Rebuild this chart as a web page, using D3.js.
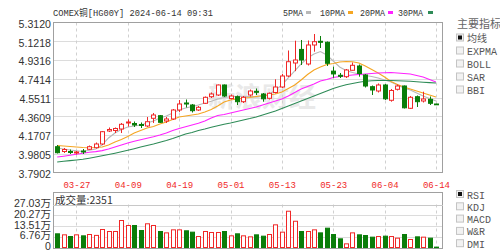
<!DOCTYPE html>
<html><head><meta charset="utf-8">
<script src="https://cdn.jsdelivr.net/npm/d3@7"></script>
<style>html,body{margin:0;padding:0;background:#fff;overflow:hidden}</style>
</head><body><svg id="c" width="500" height="251"></svg>
<script>
const dates = ["03-22","03-25","03-26","03-27","03-28","04-01","04-02","04-03","04-04","04-05","04-08","04-09","04-10","04-11","04-12","04-15","04-16","04-17","04-18","04-19","04-22","04-23","04-24","04-25","04-26","04-29","04-30","05-01","05-02","05-03","05-06","05-07","05-08","05-09","05-10","05-13","05-14","05-15","05-16","05-17","05-20","05-21","05-22","05-23","05-24","05-27","05-28","05-29","05-30","05-31","06-03","06-04","06-05","06-06","06-07","06-10","06-11","06-12","06-13","06-14"];
const open = [4.0520,4.0033,4.0033,3.9881,4.0084,4.0257,4.0419,4.0794,4.2113,4.2164,4.2316,4.2925,4.2874,4.2773,4.2620,4.3401,4.3665,4.3128,4.3331,4.4244,4.4954,4.4751,4.4244,4.4923,4.5593,4.5765,4.6780,4.5410,4.5593,4.5086,4.5765,4.6141,4.5867,4.5430,4.6019,4.6577,4.7693,4.9012,5.0389,4.8910,5.0838,5.1213,5.1112,4.8185,4.7764,4.7622,4.8272,4.8707,4.7795,4.6607,4.6171,4.6780,4.5228,4.6344,4.6679,4.4416,4.5593,4.5157,4.5329,4.4852];
const close = [3.9912,4.0236,3.9932,3.9983,3.9983,4.0520,4.0794,4.2042,4.2265,4.2367,4.2793,4.3026,4.2722,4.2671,4.3056,4.3736,4.2996,4.3331,4.4244,4.4852,4.4852,4.4173,4.4517,4.5532,4.5867,4.6780,4.5664,4.5664,4.5086,4.5532,4.6171,4.6039,4.5380,4.5938,4.6577,4.7693,4.9143,4.9316,4.9316,5.0838,5.1173,5.1112,4.8982,4.7903,4.7663,4.8302,4.8779,4.7947,4.6679,4.6273,4.6780,4.5380,4.6222,4.6679,4.4467,4.5532,4.5086,4.5359,4.4923,4.4791];
const high = [4.0693,4.0388,4.0236,4.0084,4.0287,4.0642,4.0946,4.2113,4.2468,4.2468,4.2925,4.3280,4.3077,4.2976,4.3533,4.3939,4.3736,4.3533,4.4345,4.5258,4.5309,4.4852,4.4649,4.5613,4.6019,4.6830,4.6830,4.5816,4.5715,4.5664,4.6323,4.6425,4.5968,4.6019,4.7358,4.7896,5.0280,5.1274,5.1345,5.1294,5.1952,5.1751,5.1193,4.8637,4.7998,4.8404,4.9063,4.8860,4.7896,4.6729,4.6932,4.6882,4.6374,4.6830,4.6729,4.5664,4.5715,4.6100,4.5613,4.4882];
const low = [3.9830,3.9881,3.9780,3.9729,3.9780,4.0186,4.0338,4.0693,4.2012,4.1907,4.1907,4.2570,4.2519,4.2417,4.2519,4.2925,4.2925,4.2925,4.3229,4.4041,4.4497,4.3990,4.4142,4.4852,4.5461,4.5664,4.5562,4.5309,4.4751,4.4954,4.5613,4.5765,4.5086,4.5309,4.5917,4.6475,4.7591,4.8185,4.8809,4.8758,5.0158,5.0534,4.8707,4.7518,4.7490,4.7490,4.8251,4.7622,4.6526,4.5765,4.6019,4.5258,4.5086,4.6222,4.4396,4.4345,4.4548,4.5004,4.4751,4.4771];
// volume in 万 (10k lots)
const volume = [8.6,7.96,6.91,7.96,7.33,8.17,7.6,11.31,10.06,10.06,16.97,13.83,13.83,10.69,14.9,13.83,10.06,9.2,11.1,11.1,10.5,9.64,6.91,10.06,9.43,9.43,10.06,7.33,8.6,7.33,6.7,7.96,7.12,8.17,14.25,9.64,22.8,16.5,10.06,10.06,11.1,9.2,12.15,8.17,5.45,2.3,9.2,7.96,7.54,6.5,6.9,7.12,6.9,5.87,8.17,5.03,6.7,6.5,5.87,0.2351];
const ma5 = [4.0390,4.0288,4.0186,4.0105,4.0034,4.0156,4.0288,4.0694,4.1404,4.1911,4.2266,4.2519,4.2621,4.2722,4.2926,4.3129,4.3433,4.3636,4.3940,4.4244,4.4447,4.4599,4.4751,4.4954,4.5126,4.5360,4.5512,4.5583,4.5643,4.5643,4.5613,4.5562,4.5613,4.5816,4.6273,4.6780,4.7490,4.8200,4.8910,4.9519,4.9925,5.0179,4.9823,4.9215,4.8606,4.8251,4.8048,4.7896,4.7744,4.7642,4.7490,4.7287,4.7084,4.6780,4.6476,4.6273,4.5969,4.5664,4.5410,4.5157];
const ma10 = [4.0643,4.0592,4.0541,4.0491,4.0440,4.0420,4.0440,4.0491,4.0694,4.0998,4.1252,4.1556,4.1911,4.2164,4.2418,4.2570,4.2824,4.3027,4.3280,4.3534,4.3636,4.3737,4.3838,4.4041,4.4295,4.4650,4.5056,4.5258,4.5360,4.5461,4.5512,4.5613,4.5715,4.5765,4.5867,4.6070,4.6425,4.6780,4.7287,4.7845,4.8302,4.8606,4.8859,4.8961,4.9113,4.9164,4.9133,4.9012,4.8707,4.8352,4.7997,4.7591,4.7135,4.6831,4.6577,4.6374,4.6171,4.5969,4.5766,4.5563];
const ma20 = [3.9476,3.9557,3.9649,3.9750,3.9852,3.9963,4.0024,4.0125,4.0288,4.0491,4.0694,4.0897,4.1069,4.1221,4.1384,4.1536,4.1708,4.1911,4.2164,4.2367,4.2550,4.2722,4.2895,4.3128,4.3433,4.3686,4.3788,4.3940,4.4092,4.4244,4.4396,4.4549,4.4751,4.4954,4.5157,4.5360,4.5664,4.6019,4.6374,4.6628,4.6882,4.7186,4.7338,4.7541,4.7642,4.7713,4.7795,4.7845,4.7896,4.7947,4.7997,4.8028,4.8048,4.7997,4.7947,4.7896,4.7744,4.7591,4.7338,4.7084];
const ma30 = [3.8969,3.9040,3.9111,3.9172,3.9243,3.9355,3.9476,3.9608,3.9730,3.9862,4.0003,4.0156,4.0318,4.0491,4.0643,4.0795,4.0968,4.1150,4.1353,4.1576,4.1810,4.1962,4.2164,4.2317,4.2489,4.2641,4.2793,4.2925,4.3078,4.3230,4.3372,4.3534,4.3737,4.3940,4.4143,4.4396,4.4650,4.4903,4.5157,4.5410,4.5664,4.5918,4.6171,4.6425,4.6628,4.6800,4.6932,4.7054,4.7155,4.7206,4.7236,4.7236,4.7236,4.7216,4.7186,4.7155,4.7115,4.7064,4.7023,4.6983];
const priceTicks = ["5.3120","5.1218","4.9316","4.7414","4.5511","4.3609","4.1707","3.9805","3.7902"];
const volTicks = ["27.03万","20.27万","13.51万","6.76万","0"];
const dateTickLabels = ["03-27","04-09","04-19","05-01","05-13","05-23","06-04","06-14"];
const maNames = ["5PMA","10PMA","20PMA","30PMA"];
const mainIndicators = ["均线","EXPMA","BOLL","SAR","BBI"];
const subIndicators = ["RSI","KDJ","MACD","W&R","DMI"];
const titleText = "COMEX铜[HG00Y] 2024-06-14 09:31";
const volHeader = "成交量:2351";

const RED = "#f02828", GREEN = "#0a7d0a";
const maColors = ["#b8b8b8", "#f5a623", "#ff22ff", "#2e8b57"];
const L = 53, R = 443, T = 22.5, B = 172.5, VT = 204.5, VB = 247.5;
const svg = d3.select("#c");
const crisp = v => Math.round(v) + 0.5;

const x = d3.scaleLinear().domain([-0.65, 60.1]).range([L, R]);
const y = d3.scaleLinear().domain([+priceTicks[priceTicks.length-1], +priceTicks[0]]).range([B, T]);
const volMax = parseFloat(volTicks[0]);
const yv = d3.scaleLinear().domain([0, volMax]).range([VB, VT]);
const volTickVals = volTicks.map(t => parseFloat(t));

// watermark
svg.append("text").attr("x", 262).attr("y", 107).attr("text-anchor", "middle")
  .attr("font-family", "Noto Sans CJK SC").attr("font-weight", "bold").attr("font-size", 27)
  .attr("fill", "#e9e9e9").text("新浪财经");

// main plot grid
const tickIdx = dateTickLabels.map(d => dates.indexOf(d));
const g = svg.append("g");
g.selectAll("line.hg").data(priceTicks.slice(1, -1)).join("line")
  .attr("x1", L).attr("x2", R).attr("y1", d => crisp(y(+d))).attr("y2", d => crisp(y(+d)))
  .attr("stroke", "#dcdcdc").attr("stroke-width", 1);
g.selectAll("line.vg").data(tickIdx).join("line")
  .attr("x1", d => crisp(x(d))).attr("x2", d => crisp(x(d))).attr("y1", T).attr("y2", B)
  .attr("stroke", "#d0d0d0").attr("stroke-dasharray", "3,3");
// volume grid
g.selectAll("line.vhg").data(volTickVals.slice(1, -1)).join("line")
  .attr("x1", L).attr("x2", R).attr("y1", d => crisp(yv(d))).attr("y2", d => crisp(yv(d)))
  .attr("stroke", "#dcdcdc");
g.selectAll("line.vvg").data(tickIdx).join("line")
  .attr("x1", d => crisp(x(d))).attr("x2", d => crisp(x(d))).attr("y1", VT).attr("y2", VB)
  .attr("stroke", "#d0d0d0").attr("stroke-dasharray", "3,3");

// frames
svg.append("rect").attr("x", L + 0.5).attr("y", Math.floor(T) + 0.5).attr("width", R - L - 1).attr("height", Math.round(B - T))
  .attr("fill", "none").attr("stroke", "#a0a0a0");
svg.append("rect").attr("x", L + 0.5).attr("y", 192.5).attr("width", R - L - 1).attr("height", 56)
  .attr("fill", "none").attr("stroke", "#a0a0a0");
svg.append("line").attr("x1", L).attr("x2", R).attr("y1", crisp(VT)).attr("y2", crisp(VT)).attr("stroke", "#c8c8c8");

// y axis (price)
const ya = svg.append("g").attr("transform", `translate(${L - 2},0)`)
  .call(d3.axisLeft(y).tickValues(priceTicks.map(Number)).tickFormat((d, i) => priceTicks[i]).tickSize(0).tickPadding(0));
ya.select(".domain").remove();
ya.selectAll("text").attr("font-family", "Liberation Sans, Arial").attr("font-size", 10.6).attr("fill", "#333").attr("dy", "0.45em");

// volume axis
const va = svg.append("g").attr("transform", `translate(${L - 2},0)`)
  .call(d3.axisLeft(yv).tickValues(volTickVals).tickFormat((d, i) => volTicks[i]).tickSize(0).tickPadding(0));
va.select(".domain").remove();
va.selectAll("text").attr("font-family", "Liberation Sans, Noto Sans CJK SC").attr("font-size", 10.6).attr("fill", "#333").attr("dy", "0.2em");

// date axis
const xa = svg.append("g").attr("transform", `translate(0,${B})`)
  .call(d3.axisBottom(x).tickValues(tickIdx).tickFormat(i => dates[i]).tickSize(0).tickPadding(0));
xa.select(".domain").remove();
xa.selectAll("text").attr("y", 9).attr("dy", "0.71em").attr("font-family", "Liberation Mono, DejaVu Sans Mono").attr("font-size", 9).attr("fill", RED);

// MA lines
const mas = [ma5, ma10, ma20, ma30];
const line = d3.line().x((d, i) => x(i)).y(d => y(d));
svg.append("g").selectAll("path").data(mas).join("path")
  .attr("d", d => line(d)).attr("fill", "none")
  .attr("stroke", (d, i) => maColors[i]).attr("stroke-width", 1.1);

// candles
const idx = d3.range(dates.length);
const up = i => close[i] >= open[i];
const cw = 4;
const cg = svg.append("g");
cg.selectAll("line").data(idx).join("line")
  .attr("x1", i => crisp(x(i))).attr("x2", i => crisp(x(i)))
  .attr("y1", i => y(high[i])).attr("y2", i => y(low[i]))
  .attr("stroke", i => up(i) ? RED : GREEN);
cg.selectAll("rect").data(idx).join("rect")
  .attr("x", i => crisp(x(i)) - cw / 2)
  .attr("y", i => y(Math.max(open[i], close[i])))
  .attr("width", cw)
  .attr("height", i => Math.max(0.8, Math.abs(y(open[i]) - y(close[i]))))
  .attr("fill", i => up(i) ? "#fff" : GREEN)
  .attr("stroke", i => up(i) ? RED : GREEN);

// volume bars
svg.append("g").selectAll("rect").data(idx).join("rect")
  .attr("x", i => crisp(x(i)) - cw / 2)
  .attr("y", i => yv(volume[i]))
  .attr("width", cw)
  .attr("height", i => Math.max(0.5, VB - yv(volume[i])))
  .attr("fill", i => up(i) ? "#fff" : GREEN)
  .attr("stroke", i => up(i) ? RED : GREEN);

// title & legend
svg.append("text").attr("x", 53).attr("y", 16).attr("font-family", "Liberation Mono, Noto Sans CJK SC")
  .attr("font-size", 9.5).attr("fill", "#333").attr("textLength", 160).attr("lengthAdjust", "spacingAndGlyphs").text(titleText);
const legX = [283, 320, 360, 398], legW = [20, 25, 25, 25], dashX = [306, 348, 388, 428];
const lg = svg.append("g");
maNames.forEach((n, i) => {
  lg.append("text").attr("x", legX[i]).attr("y", 16).attr("font-family", "Liberation Mono")
    .attr("font-size", 9.5).attr("fill", "#333").attr("textLength", legW[i]).attr("lengthAdjust", "spacingAndGlyphs").text(n);
  lg.append("rect").attr("x", dashX[i]).attr("y", 11).attr("width", 5).attr("height", 3).attr("fill", maColors[i]);
});

// volume header
svg.append("text").attr("x", 55).attr("y", 204).attr("font-family", "Noto Sans CJK SC")
  .attr("font-size", 10.5).attr("fill", "#333").text(volHeader);

// right panel
svg.append("text").attr("x", 457).attr("y", 28).attr("font-family", "Noto Sans CJK SC")
  .attr("font-size", 11).attr("fill", "#666").text("主要指标");
function checklist(items, y0, step) {
  const gg = svg.append("g");
  items.forEach((t, i) => {
    const yy = y0 + i * step;
    gg.append("rect").attr("x", 456.5).attr("y", yy - 4.5).attr("width", 7).attr("height", 7)
      .attr("fill", "#f2f2f2").attr("stroke", "#c4c4c4");
    if (i === 0) gg.append("rect").attr("x", 458).attr("y", yy - 3).attr("width", 4).attr("height", 4).attr("fill", "#111");
    gg.append("text").attr("x", 467).attr("y", yy + 3.5).attr("font-family", "Liberation Mono, Noto Sans CJK SC")
      .attr("font-size", 10).attr("fill", "#555").text(t);
  });
}
checklist(mainIndicators, 38.5, 13);
checklist(subIndicators, 195, 12.3);
</script>
</body></html>
